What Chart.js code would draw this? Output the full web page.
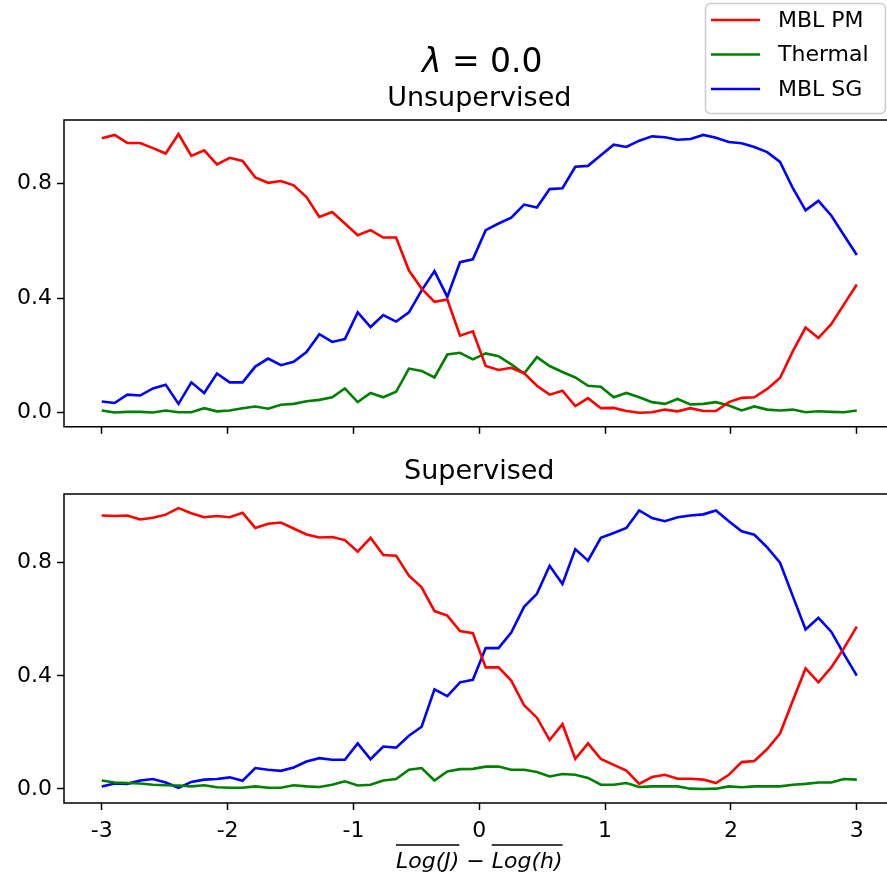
<!DOCTYPE html>
<html>
<head>
<meta charset="utf-8">
<script src="https://cdn.jsdelivr.net/npm/chart.js@4.4.0/dist/chart.umd.min.js"></script>
<style>
  body { margin: 0; background: #fff; }
  #wrap { position: relative; width: 887px; height: 886px; }
  canvas { position: absolute; left: 0; }
</style>
</head>
<body>
<div id="wrap">
  <canvas id="topChart" width="887" height="445" style="top:0"></canvas>
  <canvas id="bottomChart" width="887" height="441" style="top:445px"></canvas>
</div>
<script>
// x positions (60 points from -3 to 3)
const xValues = [
  -3.000, -2.898, -2.797, -2.695, -2.593, -2.492, -2.390, -2.288, -2.186, -2.085,
  -1.983, -1.881, -1.780, -1.678, -1.576, -1.475, -1.373, -1.271, -1.169, -1.068,
  -0.966, -0.864, -0.763, -0.661, -0.559, -0.458, -0.356, -0.254, -0.153, -0.051,
  0.051, 0.153, 0.254, 0.356, 0.458, 0.559, 0.661, 0.763, 0.864, 0.966,
  1.068, 1.169, 1.271, 1.373, 1.475, 1.576, 1.678, 1.780, 1.881, 1.983,
  2.085, 2.186, 2.288, 2.390, 2.492, 2.593, 2.695, 2.797, 2.898, 3.000
];
const xTicks = [-3, -2, -1, 0, 1, 2, 3];
const yTicks = [0, 0.4, 0.8];
const seriesNames = ['MBL PM', 'Thermal', 'MBL SG'];
const seriesColors = ['#ff0000', '#008000', '#0000ff'];

// Unsupervised
const unsupPM = [
  0.957, 0.969, 0.941, 0.941, 0.923, 0.904, 0.972, 0.896, 0.915, 0.866,
  0.889, 0.878, 0.821, 0.802, 0.808, 0.793, 0.752, 0.683, 0.700, 0.660,
  0.619, 0.637, 0.611, 0.611, 0.496, 0.433, 0.387, 0.395, 0.269, 0.284,
  0.163, 0.149, 0.157, 0.138, 0.094, 0.063, 0.077, 0.023, 0.051, 0.016,
  0.017, 0.006, 0.000, 0.002, 0.011, 0.005, 0.016, 0.006, 0.006, 0.037,
  0.052, 0.054, 0.083, 0.121, 0.215, 0.297, 0.261, 0.309, 0.378, 0.447
];
const unsupThermal = [
  0.008, 0.001, 0.003, 0.003, 0.001, 0.008, 0.002, 0.002, 0.016, 0.005,
  0.008, 0.016, 0.022, 0.014, 0.028, 0.031, 0.040, 0.045, 0.054, 0.085,
  0.037, 0.069, 0.054, 0.073, 0.154, 0.146, 0.123, 0.203, 0.209, 0.186,
  0.207, 0.197, 0.169, 0.137, 0.194, 0.163, 0.142, 0.123, 0.094, 0.091,
  0.054, 0.069, 0.054, 0.037, 0.031, 0.048, 0.029, 0.031, 0.037, 0.025,
  0.008, 0.022, 0.011, 0.008, 0.011, 0.002, 0.005, 0.003, 0.002, 0.008
];
const unsupSG = [
  0.039, 0.034, 0.063, 0.060, 0.085, 0.098, 0.031, 0.106, 0.069, 0.137,
  0.106, 0.106, 0.161, 0.189, 0.166, 0.178, 0.212, 0.274, 0.247, 0.257,
  0.350, 0.299, 0.341, 0.318, 0.350, 0.427, 0.494, 0.404, 0.525, 0.535,
  0.637, 0.660, 0.680, 0.726, 0.716, 0.780, 0.783, 0.858, 0.861, 0.898,
  0.935, 0.927, 0.949, 0.964, 0.961, 0.952, 0.955, 0.969, 0.959, 0.944,
  0.940, 0.927, 0.909, 0.875, 0.783, 0.706, 0.739, 0.688, 0.619, 0.550
];

// Supervised
const supPM = [
  0.967, 0.965, 0.967, 0.953, 0.959, 0.970, 0.993, 0.975, 0.961, 0.965,
  0.961, 0.977, 0.923, 0.938, 0.942, 0.921, 0.900, 0.889, 0.891, 0.880,
  0.839, 0.888, 0.827, 0.825, 0.754, 0.713, 0.629, 0.613, 0.558, 0.551,
  0.430, 0.430, 0.383, 0.296, 0.252, 0.173, 0.229, 0.106, 0.161, 0.106,
  0.085, 0.065, 0.018, 0.042, 0.050, 0.036, 0.036, 0.033, 0.021, 0.050,
  0.095, 0.099, 0.141, 0.196, 0.313, 0.426, 0.377, 0.430, 0.498, 0.574
];
const supThermal = [
  0.030, 0.023, 0.021, 0.019, 0.015, 0.013, 0.012, 0.009, 0.013, 0.006,
  0.004, 0.004, 0.009, 0.004, 0.004, 0.013, 0.009, 0.007, 0.015, 0.027,
  0.012, 0.015, 0.030, 0.035, 0.068, 0.074, 0.030, 0.062, 0.070, 0.071,
  0.079, 0.079, 0.068, 0.068, 0.060, 0.044, 0.053, 0.050, 0.039, 0.015,
  0.015, 0.021, 0.007, 0.009, 0.009, 0.009, 0.001, 0.000, 0.001, 0.009,
  0.006, 0.009, 0.009, 0.009, 0.015, 0.018, 0.023, 0.023, 0.035, 0.033
];
const supSG = [
  0.009, 0.019, 0.018, 0.030, 0.035, 0.023, 0.004, 0.025, 0.033, 0.035,
  0.041, 0.029, 0.074, 0.068, 0.064, 0.076, 0.097, 0.109, 0.103, 0.103,
  0.161, 0.105, 0.150, 0.146, 0.188, 0.220, 0.352, 0.328, 0.377, 0.386,
  0.498, 0.498, 0.553, 0.644, 0.690, 0.789, 0.725, 0.848, 0.807, 0.888,
  0.905, 0.923, 0.985, 0.958, 0.947, 0.961, 0.967, 0.971, 0.985, 0.947,
  0.911, 0.899, 0.854, 0.800, 0.681, 0.564, 0.605, 0.556, 0.477, 0.401
];

const FONT = "'DejaVu Sans', sans-serif";

function makeDatasets(values) {
  return values.map((v, i) => ({
    label: seriesNames[i],
    data: v.map((y, j) => ({ x: xValues[j], y: y })),
    borderColor: seriesColors[i],
    backgroundColor: seriesColors[i],
    borderWidth: 2.6,
    pointRadius: 0,
    tension: 0,
    fill: false
  }));
}

// axes frame (left, top, bottom spines; the right one falls outside the picture)
const framePlugin = {
  id: 'frame',
  afterDraw(chart) {
    const { ctx, chartArea: a } = chart;
    ctx.save();
    ctx.strokeStyle = '#000';
    ctx.lineWidth = 1.5;
    ctx.beginPath();
    ctx.moveTo(a.right + 5, a.top);
    ctx.lineTo(a.left, a.top);
    ctx.lineTo(a.left, a.bottom);
    ctx.lineTo(a.right + 5, a.bottom);
    ctx.stroke();
    ctx.restore();
  }
};

// titles, figure legend and x label
const textPlugin = {
  id: 'texts',
  afterDraw(chart, args, opts) {
    const ctx = chart.ctx;
    const cx = chart.scales.x.getPixelForValue(0);
    ctx.save();
    ctx.fillStyle = '#000';
    ctx.textAlign = 'center';
    ctx.textBaseline = 'alphabetic';

    if (opts.suptitle) {
      ctx.font = 'italic 33px ' + FONT;
      const w1 = ctx.measureText('λ').width;
      ctx.font = '33px ' + FONT;
      const rest = ' = 0.0';
      const w2 = ctx.measureText(rest).width;
      const x0 = cx + 3 - (w1 + w2) / 2;
      ctx.textAlign = 'left';
      ctx.font = 'italic 33px ' + FONT;
      ctx.fillText('λ', x0, opts.suptitleY);
      ctx.font = '33px ' + FONT;
      ctx.fillText(rest, x0 + w1, opts.suptitleY);
      ctx.textAlign = 'center';
    }

    if (opts.title) {
      ctx.font = '27px ' + FONT;
      ctx.fillText(opts.title, cx, opts.titleY);
    }

    if (opts.legend) {
      ctx.beginPath();
      ctx.roundRect(705.5, 3.5, 180, 110, 5);
      ctx.fillStyle = 'rgba(255,255,255,0.8)';
      ctx.fill();
      ctx.strokeStyle = '#cccccc';
      ctx.lineWidth = 1.5;
      ctx.stroke();
      ctx.textAlign = 'left';
      ctx.textBaseline = 'middle';
      ctx.font = '22px ' + FONT;
      chart.data.datasets.forEach((ds, i) => {
        const y = 20 + i * 34.5;
        ctx.strokeStyle = ds.borderColor;
        ctx.lineWidth = 2.6;
        ctx.beginPath();
        ctx.moveTo(711, y);
        ctx.lineTo(760, y);
        ctx.stroke();
        ctx.fillStyle = '#000';
        ctx.fillText(ds.label, 778, y + 1);
      });
      ctx.textBaseline = 'alphabetic';
    }

    if (opts.xlabel) {
      const y = opts.xlabelY;
      const parts = ['Log(J)', ' \u2212 ', 'Log(h)'];
      const fonts = ['italic 22px ' + FONT, '22px ' + FONT, 'italic 22px ' + FONT];
      const widths = parts.map((p, i) => { ctx.font = fonts[i]; return ctx.measureText(p).width; });
      let x = cx - widths.reduce((s, w) => s + w, 0) / 2;
      ctx.textAlign = 'left';
      ctx.strokeStyle = '#000';
      ctx.lineWidth = 1.5;
      parts.forEach((p, i) => {
        ctx.font = fonts[i];
        ctx.fillText(p, x, y);
        if (i !== 1) {
          ctx.beginPath();
          ctx.moveTo(x, y - 23);
          ctx.lineTo(x + widths[i], y - 23);
          ctx.stroke();
        }
        x += widths[i];
      });
    }
    ctx.restore();
  }
};

function makeOptions(yMin, yMax, topPad, xAxisHeight, showXLabels, texts) {
  return {
    responsive: false,
    animation: false,
    devicePixelRatio: 1,
    layout: { padding: { top: topPad, left: 0, right: 0, bottom: 0 } },
    plugins: {
      legend: { display: false },
      tooltip: { enabled: false },
      texts: texts
    },
    scales: {
      x: {
        type: 'linear',
        min: -3.3,
        max: 3.24,
        afterBuildTicks: (axis) => { axis.ticks = xTicks.map(v => ({ value: v })); },
        afterFit: (axis) => { axis.height = xAxisHeight; },
        grid: { display: true, drawOnChartArea: false, drawTicks: true, tickLength: 7, tickWidth: 1.5, tickColor: '#000' },
        border: { display: false },
        ticks: {
          color: '#000',
          padding: 8,
          maxRotation: 0,
          font: { family: FONT, size: 22 },
          callback: (v) => showXLabels ? String(v) : ''
        }
      },
      y: {
        min: yMin,
        max: yMax,
        afterBuildTicks: (axis) => { axis.ticks = yTicks.map(v => ({ value: v })); },
        afterFit: (axis) => { axis.width = 64; },
        grid: { display: true, drawOnChartArea: false, drawTicks: true, tickLength: 7, tickWidth: 1.5, tickColor: '#000' },
        border: { display: false },
        ticks: {
          color: '#000',
          padding: 5,
          font: { family: FONT, size: 22 },
          callback: (v) => Number(v).toFixed(1)
        }
      }
    }
  };
}

const topChart = new Chart(document.getElementById('topChart').getContext('2d'), {
  type: 'line',
  data: { datasets: makeDatasets([unsupPM, unsupThermal, unsupSG]) },
  options: makeOptions(-0.049, 1.021, 120, 14, false,
    { suptitle: true, suptitleY: 72, title: 'Unsupervised', titleY: 106, legend: true }),
  plugins: [framePlugin, textPlugin]
});

const bottomChart = new Chart(document.getElementById('bottomChart').getContext('2d'), {
  type: 'line',
  data: { datasets: makeDatasets([supPM, supThermal, supSG]) },
  options: makeOptions(-0.0497, 1.043, 49, 83, true,
    { title: 'Supervised', titleY: 34, xlabel: true, xlabelY: 423 }),
  plugins: [framePlugin, textPlugin]
});
</script>
</body>
</html>
